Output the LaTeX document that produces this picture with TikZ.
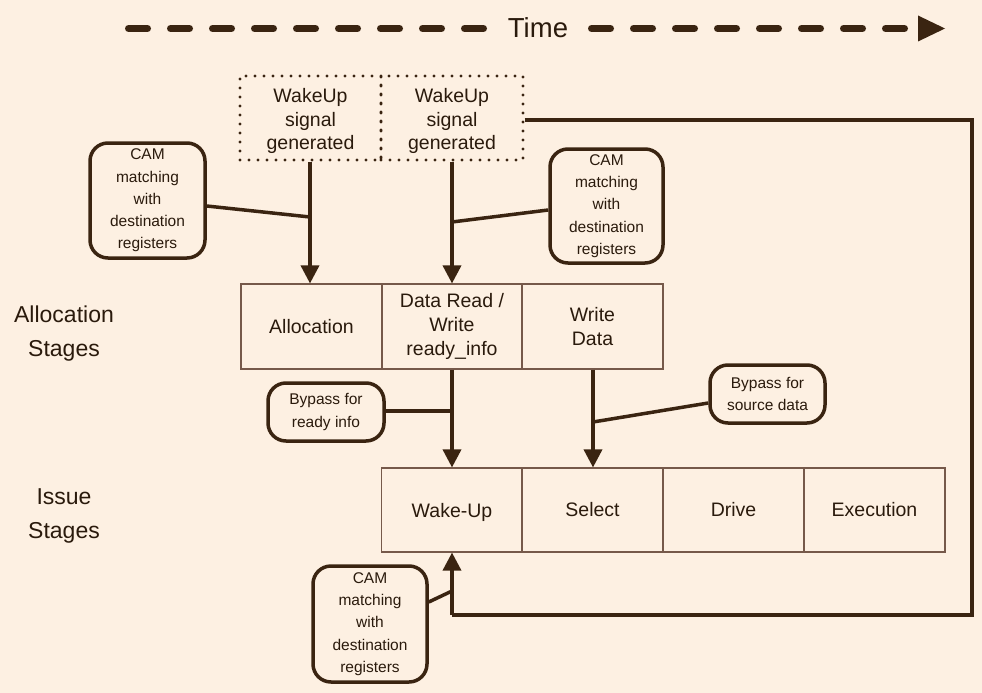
\documentclass[tikz,border=0pt]{standalone}
\usepackage{fontspec}
\setmainfont{Liberation Sans}
\usetikzlibrary{arrows.meta}
\definecolor{bg}{HTML}{FDF0E2}
\definecolor{ink}{HTML}{3A2411}
\definecolor{txt}{HTML}{2A1A0C}
\definecolor{thin}{HTML}{76594A}
\begin{document}
\begin{tikzpicture}[x=1pt,y=-1pt,
  stagebox/.style={draw=thin,line width=1.1pt,minimum width=141pt,minimum height=85pt,inner sep=0pt,
    align=center,text=txt,font=\fontsize{19.5}{24}\selectfont},
  wakebox/.style={draw=ink,line width=3.3pt,dash pattern=on 0pt off 9pt,line cap=round,
    minimum width=141pt,minimum height=84pt,inner sep=0pt,align=center,text=txt,
    font=\fontsize{19.5}{23.5}\selectfont},
  note/.style={draw=ink,line width=3.5pt,rounded corners=18pt,inner sep=0pt,align=center,text=txt,
    font=\fontsize{15.5}{22.3}\selectfont},
  conn/.style={draw=ink,line width=3.5pt},
  arr/.style={conn,-{Triangle[width=18pt,length=18pt]}},
  side/.style={align=center,text=txt,font=\fontsize{23}{34}\selectfont},
  timedash/.style={draw=ink,line width=7pt,line cap=round,dash pattern=on 19pt off 23pt}]
\fill[bg] (0,0) rectangle (982,693);
\useasboundingbox (0,0) rectangle (982,693);

% time axis
\node[text=txt,font=\fontsize{27.5}{30}\selectfont] (time) at (538,27.5) {Time};
\coordinate (tl) at (128.5,28.5);
\coordinate (tm) at (486,28.5);
\coordinate (tn) at (591.5,28.5);
\coordinate (tr) at (906,28.5);
\draw[timedash] (tl) -- (tm);
\draw[timedash] (tn) -- (tr);
\fill[ink] (918,15.5) -- (945,28.5) -- (918,41.5) -- cycle;

% wakeup boxes
\node[wakebox] (wk1) at (310.5,118) {};
\node[wakebox,minimum width=142pt] (wk2) at (452,118) {};
\node[text=txt,align=center,font=\fontsize{19.5}{23.5}\selectfont] (wk1t) at (310.5,121) {WakeUp\\signal\\generated};
\node[text=txt,align=center,font=\fontsize{19.5}{23.5}\selectfont] (wk2t) at (452,121) {WakeUp\\signal\\generated};

% side labels
\node[side] (alst) at (64,334) {Allocation\\Stages};
\node[side] (isst) at (64,516) {Issue\\Stages};

% allocation stages
\node[stagebox] (alloc) at (311.5,326.5) {Allocation};
\node[stagebox] (dread) at (452,326.5) {Data Read /\\Write\\ready\_info};
\node[stagebox] (wdata) at (592.5,326.5) {Write\\Data};

% issue stages
\node[stagebox,minimum height=84pt] (wake) at (452,510) {};
\node[text=txt,font=\fontsize{19.5}{24}\selectfont] (waket) at (452,512) {Wake-Up};
\node[stagebox,minimum height=84pt] (sel) at (592.5,510) {Select};
\node[stagebox,minimum height=84pt] (drive) at (733.5,510) {Drive};
\node[stagebox,minimum height=84pt] (exec) at (874.5,510) {Execution};

% notes
\node[note,minimum width=115pt,minimum height=115pt] (cam1) at (147.5,200.5) {CAM\\matching\\with\\destination\\registers};
\node[note,minimum width=113pt,minimum height=114pt] (cam2) at (606.5,206) {CAM\\matching\\with\\destination\\registers};
\node[note,minimum width=114pt,minimum height=116pt] (cam3) at (370,624) {CAM\\matching\\with\\destination\\registers};
\node[note,minimum width=116pt,minimum height=58pt,font=\fontsize{15.5}{23}\selectfont] (byp1) at (326,412) {Bypass for\\ready info};
\node[note,minimum width=115pt,minimum height=58pt,font=\fontsize{15.5}{22}\selectfont] (byp2) at (767.5,394) {Bypass for\\source data};

% junction points
\coordinate (j1) at (310,217);
\coordinate (j2) at (452,222);
\coordinate (j3) at (452,411);
\coordinate (j4) at (593,422);
\coordinate (j5) at (452,591);
\coordinate (fb1) at (972,120);
\coordinate (fb2) at (972,615);
\coordinate (fb3) at (452,615);

% arrows
\draw[arr] (wk1.south -| j1) -- (alloc.north -| j1);
\draw[arr] (wk2.south) -- (dread.north);
\draw[arr] (dread.south) -- (wake.north);
\draw[arr] (wdata.south -| j4) -- (sel.north -| j4);
\draw[conn] (wk2.east |- fb1) -- (fb1) -- (fb2) -- (fb3);
\draw[arr] (fb3) -- (wake.south);

% note connectors
\draw[conn] ([yshift=-5.5pt]cam1.east) -- (j1);
\draw[conn] ([yshift=-4pt]cam2.west) -- (j2);
\draw[conn] (byp1.east |- j3) -- (j3);
\draw[conn] ([yshift=-9pt]byp2.west) -- (j4);
\draw[conn] ([yshift=22pt]cam3.east) -- (j5);
\end{tikzpicture}
\end{document}
